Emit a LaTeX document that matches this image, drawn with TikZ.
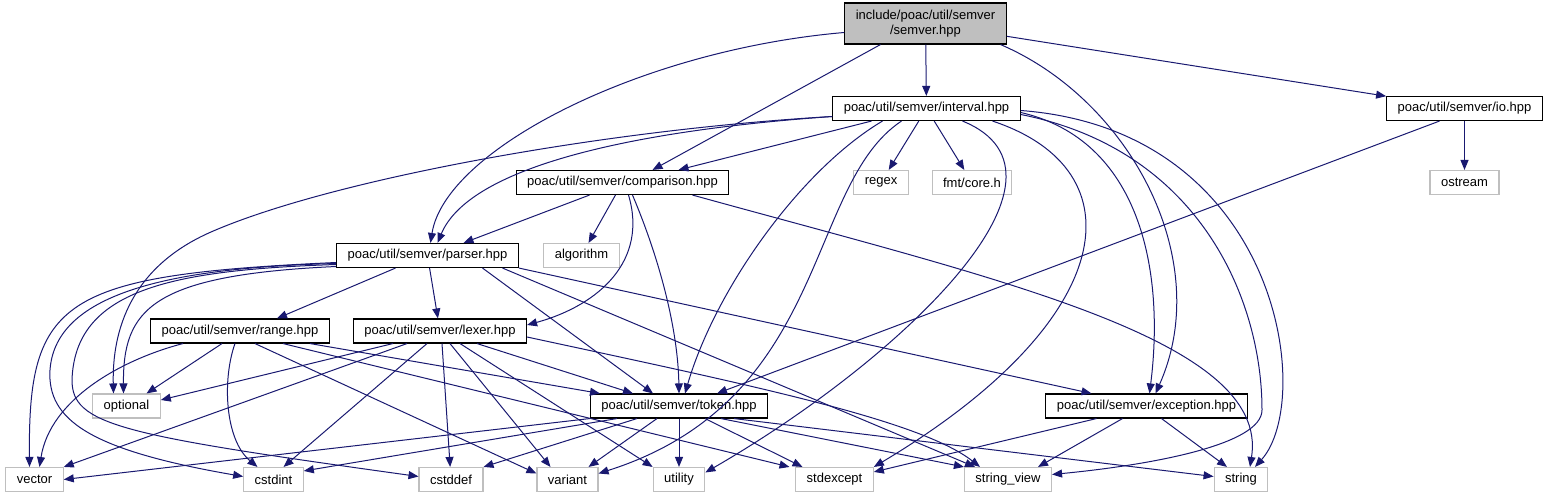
\documentclass[tikz,border=0pt]{standalone}
\usepackage{fontspec}
\setmainfont{Liberation Sans}
\usetikzlibrary{arrows.meta}
\definecolor{midnight}{RGB}{25,25,112}
\definecolor{sysgray}{RGB}{191,191,191}

\begin{document}
\begin{tikzpicture}[x=1pt, y=-1pt, font=\fontsize{13}{15}\selectfont,
  hdr/.style={draw=black, line width=1.1pt, fill=white, inner xsep=11pt, inner ysep=0pt, minimum height=24pt},
  sys/.style={hdr, draw=sysgray},
  rootbox/.style={hdr, fill=sysgray, minimum height=41pt, align=center},
  dep/.style={draw=midnight, line width=1pt, -{Triangle[length=10pt,width=8pt]}}]
\useasboundingbox (0,0) rectangle (1553,500);

\node[rootbox] (semver) at (925.5,23.5) {include/poac/util/semver\\/semver.hpp};
\node[hdr] (interval) at (926.5,108.5) {poac/util/semver/interval.hpp};
\node[hdr] (io) at (1464.5,108.5) {poac/util/semver/io.hpp};
\node[hdr] (comparison) at (622.5,182.5) {poac/util/semver/comparison.hpp};
\node[sys] (regex) at (881,182.5) {regex};
\node[sys] (fmtcore) at (972,182.5) {fmt/core.h};
\node[sys] (ostream) at (1464.5,182.5) {ostream};
\node[hdr] (parser) at (427.5,255.5) {poac/util/semver/parser.hpp};
\node[sys] (algorithm) at (581.5,255.5) {algorithm};
\node[hdr] (range) at (240,331) {poac/util/semver/range.hpp};
\node[hdr] (lexer) at (440,331) {poac/util/semver/lexer.hpp};
\node[sys] (optional) at (126.5,406) {optional};
\node[hdr] (token) at (679,406) {poac/util/semver/token.hpp};
\node[hdr] (exception) at (1146.5,406) {poac/util/semver/exception.hpp};
\node[sys] (vector) at (34.5,479.5) {vector};
\node[sys] (cstdint) at (273.5,479.5) {cstdint};
\node[sys] (cstddef) at (451,479.5) {cstddef};
\node[sys] (variant) at (567.5,479.5) {variant};
\node[sys] (utility) at (679,479.5) {utility};
\node[sys] (stdexcept) at (834.5,479.5) {stdexcept};
\node[sys] (stringview) at (1008,479.5) {string\_view};
\node[sys] (string) at (1241,479.5) {string};

% semver.hpp
\draw[dep] (semver) -- (interval);
\draw[dep] (semver) -- (io);
\draw[dep] ([xshift=-45pt]semver.south) -- ([xshift=30pt]comparison.north);
\draw[dep] ([yshift=-9pt]semver.west) .. controls (640,50) and (445,150) .. ([xshift=3pt]parser.north);
\draw[dep] ([xshift=75pt]semver.south) .. controls (1130,100) and (1215,260) .. ([xshift=9pt]exception.north);

% interval.hpp
\draw[dep] ([xshift=-55pt]interval.south) -- ([xshift=56pt]comparison.north);
\draw[dep] ([yshift=-8pt]interval.west) .. controls (640,130) and (470,165) .. ([xshift=10pt]parser.north);
\draw[dep] ([yshift=-8pt]interval.west) .. controls (600,130) and (330,180) .. (211,232) .. controls (131,267) and (112,330) .. ([xshift=-13pt]optional.north);
\draw[dep] (interval) -- (regex);
\draw[dep] (interval) -- (fmtcore);
\draw[dep] ([xshift=-44pt]interval.south) .. controls (800,170) and (715,290) .. ([xshift=6pt]token.north);
\draw[dep] ([xshift=-25pt]interval.south) .. controls (805,185) and (830,400) .. ([yshift=6pt]variant.east);
\draw[dep] ([xshift=36pt]interval.south) .. controls (1095,175) and (900,360) .. ([yshift=7pt]utility.east);
\draw[dep] ([xshift=66pt]interval.south) .. controls (1140,170) and (1120,320) .. (stdexcept.north east);
\draw[dep] ([yshift=-4pt]interval.east) .. controls (1140,140) and (1165,270) .. ([xshift=3pt]exception.north);
\draw[dep] ([yshift=-6pt]interval.east) .. controls (1200,150) and (1262,300) .. (1262,410) .. controls (1262,445) and (1150,465) .. ([yshift=5pt]stringview.east);
\draw[dep] ([yshift=-2pt]interval.east) .. controls (1280,130) and (1315,400) .. ([xshift=14pt]string.north);

% io.hpp
\draw[dep] (io) -- (ostream);
\draw[dep] ([xshift=-25pt]io.south) -- ([xshift=38pt]token.north);

% comparison.hpp
\draw[dep] ([xshift=-33pt]comparison.south) -- ([xshift=36pt]parser.north);
\draw[dep] (comparison) -- (algorithm);
\draw[dep] ([xshift=6pt]comparison.south) .. controls (648,260) and (600,305) .. ([yshift=6pt]lexer.east);
\draw[dep] ([xshift=10pt]comparison.south) .. controls (660,260) and (678,330) .. (token.north);
\draw[dep] ([xshift=70pt]comparison.south) .. controls (1000,280) and (1270,340) .. ([xshift=9pt]string.north);

% parser.hpp
\draw[dep] ([xshift=-32pt]parser.south) -- ([xshift=37pt]range.north);
\draw[dep] (parser) -- (lexer);
\draw[dep] ([yshift=-11pt]parser.west) .. controls (150,275) and (123,310) .. ([xshift=-3pt]optional.north);
\draw[dep] ([yshift=-7pt]parser.west) .. controls (60,275) and (28,300) .. ([xshift=-5pt]vector.north);
\draw[dep] ([yshift=-8pt]parser.west) .. controls (150,268) and (55,300) .. (50,370) .. controls (47,420) and (90,450) .. ([yshift=3pt]cstdint.west);
\draw[dep] ([yshift=-9pt]parser.west) .. controls (170,270) and (75,290) .. (72,380) .. controls (72,425) and (120,435) .. ([yshift=3pt]cstddef.west);
\draw[dep] ([xshift=55pt]parser.south) -- ([xshift=-26pt]token.north);
\draw[dep] ([xshift=75pt]parser.south) -- ([xshift=-33pt]stringview.north);
\draw[dep] (parser.south east) -- ([xshift=-55pt]exception.north);

% range.hpp
\draw[dep] ([xshift=-57pt]range.south) .. controls (120,360) and (50,400) .. ([xshift=5pt]vector.north);
\draw[dep] ([xshift=-18pt]range.south) -- ([xshift=20pt]optional.north);
\draw[dep] ([xshift=-5pt]range.south) .. controls (222,380) and (225,440) .. ([xshift=-16pt]cstdint.north);
\draw[dep] ([xshift=15pt]range.south) -- ([yshift=6pt]variant.west);
\draw[dep] ([xshift=43pt]range.south) -- ([xshift=-45pt]stdexcept.north);
\draw[dep] ([xshift=70pt]range.south) -- ([xshift=-79pt]token.north);

% lexer.hpp
\draw[dep] ([xshift=-47pt]lexer.south) -- ([yshift=6pt]optional.east);
\draw[dep] ([xshift=-33pt]lexer.south) -- (vector.north east);
\draw[dep] ([xshift=-13pt]lexer.south) -- ([xshift=10pt]cstdint.north);
\draw[dep] ([xshift=2pt]lexer.south) -- (cstddef);
\draw[dep] ([xshift=10pt]lexer.south) -- ([xshift=-17pt]variant.north);
\draw[dep] ([xshift=20pt]lexer.south) -- (utility.north west);
\draw[dep] ([xshift=37pt]lexer.south) -- ([xshift=-46pt]token.north);
\draw[dep] ([yshift=-6pt]lexer.east) .. controls (750,385) and (920,420) .. ([xshift=-28pt]stringview.north);

% token.hpp
\draw[dep] (token.south west) -- (vector.east);
\draw[dep] ([xshift=-62pt]token.south) -- ([yshift=-4pt]cstdint.north east);
\draw[dep] ([xshift=-42pt]token.south) -- (cstddef.north east);
\draw[dep] ([xshift=-22pt]token.south) -- ([xshift=21pt]variant.north);
\draw[dep] (token) -- (utility);
\draw[dep] ([xshift=26pt]token.south) -- ([xshift=-32pt]stdexcept.north);
\draw[dep] ([xshift=42pt]token.south) -- (stringview.north west);
\draw[dep] ([xshift=55pt]token.south) -- ([yshift=3pt]string.west);

% exception.hpp
\draw[dep] ([xshift=-50pt]exception.south) -- ([yshift=-5pt]stdexcept.north east);
\draw[dep] ([xshift=-24pt]exception.south) -- ([xshift=30pt]stringview.north);
\draw[dep] ([xshift=15pt]exception.south) -- ([xshift=-14pt]string.north);
\end{tikzpicture}
\end{document}
